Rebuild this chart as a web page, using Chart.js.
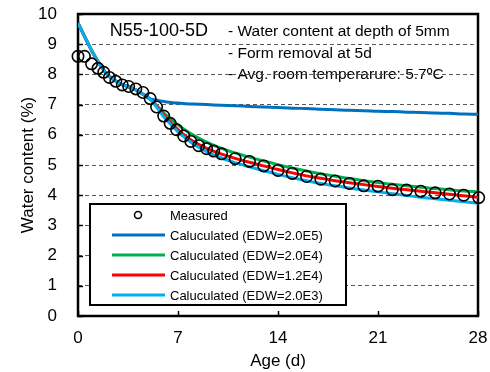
<!DOCTYPE html>
<html>
<head>
<meta charset="utf-8">
<script src="https://cdn.jsdelivr.net/npm/chart.js@4"></script>
<style>
  html, body { margin: 0; padding: 0; background: #fff; }
  #wrap { width: 490px; height: 372px; }
</style>
</head>
<body>
<div id="wrap"><canvas id="chart" width="490" height="372"></canvas></div>
<script>
// measured water content at 5mm depth
const measuredDays = [0, 0.45, 0.95, 1.4, 1.8, 2.2, 2.65, 3.1, 3.55, 4.05, 4.55, 5.05, 5.5, 6.0, 6.45, 6.9, 7.4, 7.9, 8.45, 9.0, 9.5, 10.05,
  11, 12, 13, 14, 15, 16, 17, 18, 19, 20, 21, 22, 23, 24, 25, 26, 27, 28.05];
const measuredWC = [8.6, 8.6, 8.35, 8.2, 8.07, 7.9, 7.77, 7.65, 7.6, 7.52, 7.4, 7.2, 6.92, 6.62, 6.38, 6.17, 5.96, 5.78, 5.64, 5.54, 5.46, 5.37,
  5.21, 5.12, 4.97, 4.82, 4.72, 4.62, 4.53, 4.47, 4.39, 4.31, 4.3, 4.18, 4.17, 4.13, 4.08, 4.04, 4.0, 3.92];

// calculated curves
const calcDays = [0, 0.5, 1, 1.5, 2, 2.5, 3, 3.5, 4, 4.5, 5, 5.5, 6, 6.5, 7, 7.5, 8, 9, 10, 11, 12, 13, 14, 15, 16, 17, 18, 19, 20, 21, 22, 23, 24, 25, 26, 27, 28];
const beforeRemoval = [9.7, 9.22, 8.75, 8.35, 8.02, 7.82, 7.68, 7.6, 7.5, 7.36, 7.2];
const edw2e5 = beforeRemoval.concat([7.15, 7.1, 7.07, 7.05, 7.03, 7.02, 7.0, 6.98, 6.96, 6.94, 6.92, 6.9, 6.88, 6.87, 6.85, 6.83, 6.81, 6.8, 6.78, 6.77, 6.75, 6.74, 6.72, 6.71, 6.69, 6.68]);
const edw2e4 = beforeRemoval.concat([6.98, 6.73, 6.52, 6.33, 6.16, 6.01, 5.76, 5.56, 5.4, 5.26, 5.13, 5.01, 4.9, 4.8, 4.71, 4.63, 4.55, 4.48, 4.42, 4.36, 4.31, 4.26, 4.22, 4.18, 4.14, 4.11]);
const edw12e4 = beforeRemoval.concat([6.95, 6.65, 6.4, 6.17, 5.97, 5.8, 5.55, 5.37, 5.22, 5.09, 4.97, 4.85, 4.74, 4.64, 4.56, 4.48, 4.41, 4.35, 4.29, 4.23, 4.18, 4.13, 4.08, 4.03, 3.98, 3.93]);
const edw2e3 = beforeRemoval.concat([6.92, 6.6, 6.34, 6.1, 5.9, 5.72, 5.44, 5.24, 5.08, 4.94, 4.81, 4.69, 4.58, 4.48, 4.39, 4.31, 4.24, 4.17, 4.11, 4.05, 3.99, 3.93, 3.88, 3.83, 3.78, 3.73]);

const yTicks = [0, 1, 2, 3, 4, 5, 6, 7, 8, 9, 10];
const xTicks = [0, 7, 14, 21, 28];
const notes = ['- Water content at depth of 5mm', '- Form removal at 5d', '- Avg. room temperarure: 5.7ºC'];
const specimen = 'N55-100-5D';

const FONT = "'Liberation Sans', Arial, sans-serif";

const toXY = (xs, ys) => xs.map((x, i) => ({ x: x, y: ys[i] }));

const calcLine = (label, values, color, order) => ({
  label: label,
  data: toXY(calcDays, values),
  showLine: true,
  borderColor: color,
  backgroundColor: color,
  borderWidth: 3,
  pointRadius: 0,
  cubicInterpolationMode: 'monotone',
  order: order,
});

// frame, inward ticks, notes and the boxed legend
const decorations = {
  id: 'decorations',
  beforeDraw(chart) {
    const { ctx } = chart;
    const x = chart.scales.x, y = chart.scales.y;
    ctx.save();
    ctx.fillStyle = '#000';
    ctx.textBaseline = 'alphabetic';
    ctx.font = '18px ' + FONT;
    ctx.fillText(specimen, x.getPixelForValue(2.23), y.getPixelForValue(9.26));
    ctx.font = '15.5px ' + FONT;
    notes.forEach((t, i) => {
      ctx.fillText(t, x.getPixelForValue(10.5), y.getPixelForValue(9.26 - i * 0.71));
    });
    ctx.restore();
  },
  beforeDatasetsDraw(chart) {
    const { ctx, chartArea: a } = chart;
    const x = chart.scales.x, y = chart.scales.y;
    ctx.save();
    ctx.strokeStyle = '#000';
    ctx.lineWidth = 1.5;
    ctx.beginPath();
    yTicks.forEach(v => {
      const py = Math.round(y.getPixelForValue(v)) + 0.5;
      ctx.moveTo(a.left, py); ctx.lineTo(a.left + 5, py);
    });
    xTicks.forEach(v => {
      const px = Math.round(x.getPixelForValue(v)) + 0.5;
      ctx.moveTo(px, a.bottom); ctx.lineTo(px, a.bottom - 5);
    });
    ctx.stroke();
    ctx.lineWidth = 2.5;
    ctx.strokeRect(a.left, a.top, a.right - a.left, a.bottom - a.top);
    ctx.restore();
  },
  afterDraw(chart) {
    const { ctx, chartArea: a } = chart;
    const sets = chart.data.datasets;
    const bx = a.left + 12, by = a.top + 190, bw = 256, bh = 101;
    ctx.save();
    ctx.fillStyle = '#fff';
    ctx.fillRect(bx, by, bw, bh);
    ctx.strokeStyle = '#000';
    ctx.lineWidth = 2;
    ctx.strokeRect(bx, by, bw, bh);
    ctx.font = '13px ' + FONT;
    ctx.textBaseline = 'middle';
    sets.forEach((ds, i) => {
      const cy = by + 11 + i * 20;
      if (ds.showLine === false) {
        ctx.beginPath();
        ctx.strokeStyle = '#000';
        ctx.lineWidth = 1.5;
        ctx.arc(bx + 48, cy, 3.5, 0, Math.PI * 2);
        ctx.stroke();
      } else {
        ctx.beginPath();
        ctx.strokeStyle = ds.borderColor;
        ctx.lineWidth = 3;
        ctx.moveTo(bx + 22, cy);
        ctx.lineTo(bx + 75, cy);
        ctx.stroke();
      }
      ctx.fillStyle = '#000';
      ctx.fillText(ds.label, bx + 80, cy + 1);
    });
    ctx.restore();
  }
};

new Chart(document.getElementById('chart'), {
  type: 'scatter',
  data: {
    datasets: [
      {
        label: 'Measured',
        data: toXY(measuredDays, measuredWC),
        showLine: false,
        pointStyle: 'circle',
        pointRadius: 5.7,
        pointBorderWidth: 1.6,
        pointBorderColor: '#000',
        pointBackgroundColor: 'rgba(0,0,0,0)',
        clip: false,
        order: 0,
      },
      calcLine('Caluculated (EDW=2.0E5)', edw2e5, '#0070C0', 4),
      calcLine('Caluculated (EDW=2.0E4)', edw2e4, '#00B050', 3),
      calcLine('Caluculated (EDW=1.2E4)', edw12e4, '#FF0000', 2),
      calcLine('Caluculated (EDW=2.0E3)', edw2e3, '#00B0F0', 1),
    ],
  },
  options: {
    responsive: false,
    animation: false,
    layout: { padding: { top: 14, right: 12, left: 0, bottom: 0 } },
    plugins: {
      legend: { display: false },
      tooltip: { enabled: false },
    },
    scales: {
      x: {
        type: 'linear',
        min: 0,
        max: 28,
        afterBuildTicks: (s) => { s.ticks = xTicks.map(v => ({ value: v })); },
        afterFit: (s) => { s.height = 56; s.paddingLeft = 0; s.paddingRight = 0; },
        ticks: { color: '#000', font: { family: FONT, size: 17 }, padding: 12 },
        grid: { display: false, drawTicks: false },
        border: { display: false },
        title: { display: true, text: 'Age (d)', color: '#000', font: { family: FONT, size: 17 }, padding: { top: 0, bottom: 0 } },
      },
      y: {
        min: 0,
        max: 10,
        afterBuildTicks: (s) => { s.ticks = yTicks.map(v => ({ value: v })); },
        afterFit: (s) => { s.width = 78; s.paddingTop = 0; s.paddingBottom = 0; },
        ticks: { color: '#000', font: { family: FONT, size: 17 }, padding: 21 },
        grid: { color: '#595959', lineWidth: 1, drawTicks: false },
        border: { display: false, dash: [4, 3] },
        title: { display: true, text: 'Water content (%)', color: '#000', font: { family: FONT, size: 17 }, padding: { top: 18, bottom: 0 } },
      },
    },
  },
  plugins: [decorations],
});
</script>
</body>
</html>
